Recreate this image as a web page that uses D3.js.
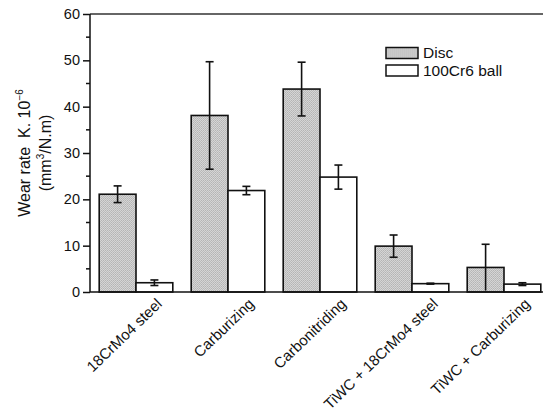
<!DOCTYPE html>
<html><head><meta charset="utf-8">
<script src="https://cdn.jsdelivr.net/npm/d3@7"></script>
<style>body{margin:0;background:#fff}svg{display:block}text{font-family:"Liberation Sans",Arial,sans-serif;fill:#111}</style>
</head><body>
<svg id="c" width="543" height="415"></svg>
<script>
const categories = ["18CrMo4 steel","Carburizing","Carbonitriding","TiWC + 18CrMo4 steel","TiWC + Carburizing"];
const seriesNames = ["Disc","100Cr6 ball"];
const discValues = [21.1, 38.1, 43.8, 9.9, 5.3];
const discErrors = [1.8, 11.6, 5.8, 2.4, 5.0];
const ballValues = [2.0, 21.9, 24.8, 1.8, 1.7];
const ballErrors = [0.6, 0.9, 2.6, 0.1, 0.3];
const yTicks = [0,10,20,30,40,50,60];
const yMinorTicks = [5,15,25,35,45,55];

const svg = d3.select("#c");
const L = 90, R = 543, T = 14, B = 292;
const x = d3.scaleBand().domain(categories).range([L, 550]).paddingInner(0.2).paddingOuter(0.1);
const sub = d3.scaleBand().domain(seriesNames).range([0, x.bandwidth()]);
const y = d3.scaleLinear().domain([0, 60]).range([B, T]);

const defs = svg.append("defs");
const pat = defs.append("pattern").attr("id","stip").attr("patternUnits","userSpaceOnUse")
  .attr("width",2).attr("height",2);
pat.append("rect").attr("width",2).attr("height",2).attr("fill","#dedede");
pat.append("rect").attr("width",1).attr("height",1).attr("fill","#ababab");
pat.append("rect").attr("x",1).attr("y",1).attr("width",1).attr("height",1).attr("fill","#b4b4b4");
const fills = {"Disc":"url(#stip)","100Cr6 ball":"#ffffff"};

const rows = categories.map((c,i)=>({c, items:[
  {s:"Disc", v:discValues[i], e:discErrors[i]},
  {s:"100Cr6 ball", v:ballValues[i], e:ballErrors[i]}]}));

// top frame line
svg.append("line").attr("x1",L).attr("x2",R).attr("y1",T).attr("y2",T)
  .attr("stroke","#333").attr("stroke-width",1.5);

const g = svg.selectAll("g.grp").data(rows).enter().append("g").attr("transform",d=>`translate(${x(d.c)},0)`);
const it = g.selectAll("g.it").data(d=>d.items).enter().append("g");
it.append("rect").attr("x",d=>sub(d.s)).attr("width",sub.bandwidth())
  .attr("y",d=>y(d.v)).attr("height",d=>B-y(d.v))
  .attr("fill",d=>fills[d.s]).attr("stroke","#111").attr("stroke-width",1.6);
const cx = d=>sub(d.s)+sub.bandwidth()/2;
it.append("line").attr("x1",cx).attr("x2",cx).attr("y1",d=>y(d.v+d.e)).attr("y2",d=>y(Math.max(0,d.v-d.e)))
  .attr("stroke","#111").attr("stroke-width",1.6);
it.append("line").attr("x1",d=>cx(d)-4).attr("x2",d=>cx(d)+4).attr("y1",d=>y(d.v+d.e)).attr("y2",d=>y(d.v+d.e))
  .attr("stroke","#111").attr("stroke-width",1.6);
it.filter(d=>d.v-d.e>0.4).append("line").attr("x1",d=>cx(d)-4).attr("x2",d=>cx(d)+4).attr("y1",d=>y(d.v-d.e)).attr("y2",d=>y(d.v-d.e))
  .attr("stroke","#111").attr("stroke-width",1.6);

// y axis
const ya = svg.append("g").attr("transform",`translate(${L},0)`);
ya.call(d3.axisLeft(y).tickValues(yTicks).tickSize(7).tickPadding(3).tickFormat(d3.format("d")));
ya.selectAll(".tick text").style("font-size","14.5px").attr("font-family",null);
ya.selectAll("line,path").attr("stroke","#111").attr("stroke-width",1.5);
ya.select(".domain").attr("d",`M0,${B}V${T}`);
ya.selectAll(".minor").data(yMinorTicks).enter().append("line").attr("class","minor")
  .attr("x1",-4).attr("x2",0).attr("y1",d=>y(d)).attr("y2",d=>y(d)).attr("stroke","#111").attr("stroke-width",1.5);

// x axis
const xa = svg.append("g").attr("transform",`translate(0,${B})`);
xa.call(d3.axisBottom(x).tickSize(0).tickPadding(0));
xa.select(".domain").attr("d",`M${L},0H${R}`).attr("stroke","#111").attr("stroke-width",1.5);
xa.selectAll(".tick text").remove();
xa.selectAll(".tick").append("text").attr("text-anchor","end")
  .attr("transform","translate(27,13) rotate(-44)")
  .style("font-size","15px").attr("font-family",null).text(d=>d);

// y title
const yt = svg.append("text").attr("transform",`translate(30,${(T+B)/2}) rotate(-90)`)
  .attr("text-anchor","middle").style("font-size","16px");
yt.append("tspan").text("Wear rate\u00a0\u00a0K. 10");
yt.append("tspan").attr("dy",-7).style("font-size","10px").text("−6");
const yt2 = svg.append("text").attr("transform",`translate(51,${(T+B)/2}) rotate(-90)`)
  .attr("text-anchor","middle").style("font-size","16px");
yt2.append("tspan").text("(mm");
yt2.append("tspan").attr("dy",-7).style("font-size","10px").text("3");
yt2.append("tspan").attr("dy",7).text("/N.m)");

// legend
const lg = svg.append("g").selectAll("g").data(seriesNames).enter().append("g")
  .attr("transform",(d,i)=>`translate(386,${47.5+i*17.5})`);
lg.append("rect").attr("width",32).attr("height",11).attr("fill",d=>fills[d]).attr("stroke","#111").attr("stroke-width",1.5);
lg.append("text").attr("x",37).attr("y",10.5).style("font-size","15.5px").text(d=>d);
</script>
</body></html>
